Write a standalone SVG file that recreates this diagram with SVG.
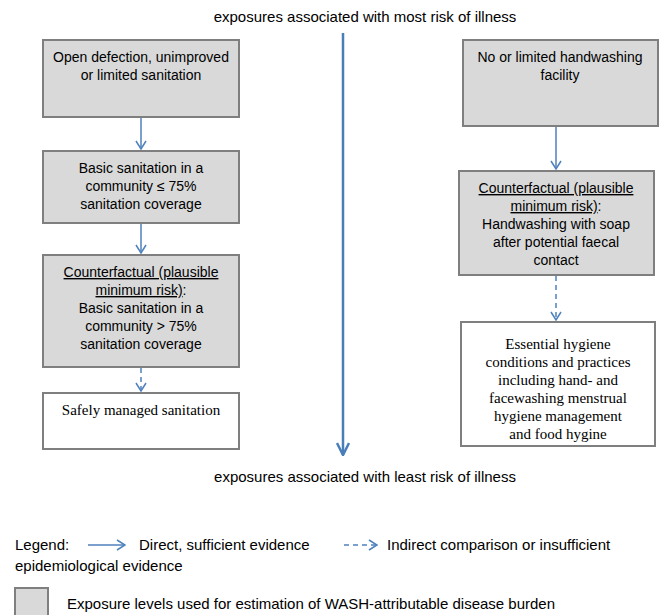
<svg xmlns="http://www.w3.org/2000/svg" width="666" height="615" viewBox="0 0 666 615">
<style>
.box{fill:#d9d9d9;stroke:#7f7f7f;stroke-width:2}
.wbox{fill:#ffffff;stroke:#7f7f7f;stroke-width:2}
.t{font-family:"Liberation Sans",Arial,sans-serif;font-size:14px;fill:#000;text-anchor:middle}
.h{font-family:"Liberation Sans",Arial,sans-serif;font-size:15px;fill:#000;text-anchor:middle}
.l{font-family:"Liberation Sans",Arial,sans-serif;font-size:15px;fill:#000}
.s{font-family:"Liberation Serif","Times New Roman",serif;font-size:15px;fill:#000;text-anchor:middle}
.u{text-decoration:underline}
.c{stroke:#4f81bd;stroke-width:1.5;fill:none}
.d{stroke:#4f81bd;stroke-width:1.5;fill:none;stroke-dasharray:5,4}
.m{stroke:#4a7ebb;stroke-width:2.5;fill:none}
</style>
<defs>
<marker id="ah" viewBox="0 0 10 12" refX="9" refY="6" markerWidth="10" markerHeight="12" markerUnits="userSpaceOnUse" orient="auto">
<path d="M1,1 L9,6 L1,11" fill="none" stroke="#4f81bd" stroke-width="1.5"/>
</marker>
<marker id="ahm" viewBox="0 0 14 14" refX="13" refY="7" markerWidth="14" markerHeight="14" markerUnits="userSpaceOnUse" orient="auto">
<path d="M1,1 L13,7 L1,13" fill="none" stroke="#4a7ebb" stroke-width="2.5"/>
</marker>
</defs>
<rect width="666" height="615" fill="#fff"/>
<text class="h" x="365" y="22">exposures associated with most risk of illness</text>
<text class="h" x="365" y="482">exposures associated with least risk of illness</text>

<g id="connectors">
<line class="m" x1="343" y1="33" x2="343" y2="455" marker-end="url(#ahm)"/>
<line class="c" x1="141" y1="118" x2="141" y2="149" marker-end="url(#ah)"/>
<line class="c" x1="141" y1="224" x2="141" y2="253" marker-end="url(#ah)"/>
<line class="d" x1="141" y1="368" x2="141" y2="391" marker-end="url(#ah)"/>
<line class="c" x1="556" y1="127" x2="556" y2="169" marker-end="url(#ah)"/>
<line class="d" x1="556" y1="276" x2="556" y2="320" marker-end="url(#ah)"/>
</g>

<g id="n1">
<rect class="box" x="43" y="40" width="196" height="77"/>
<text class="t" x="141" y="62">Open defection, unimproved</text>
<text class="t" x="141" y="80">or limited sanitation</text>
</g>
<g id="n2">
<rect class="box" x="43" y="151" width="196" height="72"/>
<text class="t" x="141" y="173">Basic sanitation in a</text>
<text class="t" x="141" y="191">community ≤ 75%</text>
<text class="t" x="141" y="209">sanitation coverage</text>
</g>
<g id="n3">
<rect class="box" x="43" y="255" width="196" height="112"/>
<text class="t" x="141" y="277"><tspan class="u">Counterfactual (plausible</tspan></text>
<text class="t" x="141" y="295"><tspan class="u">minimum risk)</tspan>:</text>
<text class="t" x="141" y="313">Basic sanitation in a</text>
<text class="t" x="141" y="331">community &gt; 75%</text>
<text class="t" x="141" y="349">sanitation coverage</text>
</g>
<g id="n4">
<rect class="wbox" x="43" y="393" width="196" height="56"/>
<text class="s" x="141" y="415">Safely managed sanitation</text>
</g>
<g id="n5">
<rect class="box" x="463" y="40" width="195" height="86"/>
<text class="t" x="560" y="62">No or limited handwashing</text>
<text class="t" x="560" y="80">facility</text>
</g>
<g id="n6">
<rect class="box" x="459" y="171" width="195" height="104"/>
<text class="t" x="556" y="193"><tspan class="u">Counterfactual (plausible</tspan></text>
<text class="t" x="556" y="211"><tspan class="u">minimum risk)</tspan>:</text>
<text class="t" x="556" y="229">Handwashing with soap</text>
<text class="t" x="556" y="247">after potential faecal</text>
<text class="t" x="556" y="265">contact</text>
</g>
<g id="n7">
<rect class="wbox" x="461" y="322" width="194" height="124"/>
<text class="s" x="558" y="349">Essential hygiene</text>
<text class="s" x="558" y="367">conditions and practices</text>
<text class="s" x="558" y="385">including hand- and</text>
<text class="s" x="558" y="403">facewashing menstrual</text>
<text class="s" x="558" y="421">hygiene management</text>
<text class="s" x="558" y="439">and food hygine</text>
</g>

<g id="legend">
<text class="l" x="15" y="550">Legend:</text>
<line class="c" x1="88" y1="545" x2="125" y2="545" marker-end="url(#ah)"/>
<text class="l" x="139" y="550">Direct, sufficient evidence</text>
<line class="d" x1="344" y1="545" x2="377" y2="545" stroke-dasharray="6,4" marker-end="url(#ah)"/>
<text class="l" x="387" y="550">Indirect comparison or insufficient</text>
<text class="l" x="15" y="571">epidemiological evidence</text>
<rect class="box" x="15" y="588" width="33" height="32"/>
<text class="l" x="67" y="609">Exposure levels used for estimation of WASH-attributable disease burden</text>
</g>
</svg>
